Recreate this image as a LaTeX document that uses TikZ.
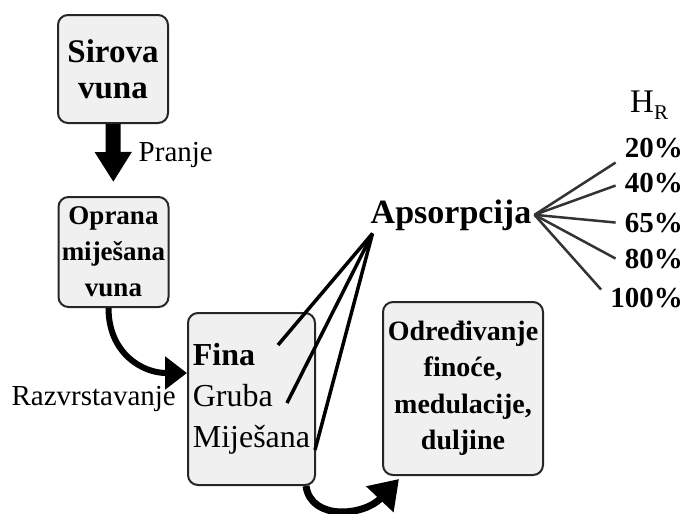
\documentclass[tikz,border=0pt]{standalone}
\usepackage{fontspec}
\setmainfont{Liberation Serif}
\usetikzlibrary{arrows.meta,positioning}
\begin{document}
\begin{tikzpicture}[x=1pt, y=-1pt,
		box/.style = {draw=black!85, line width=2pt, rounded corners=10pt, fill=black!6, align=center, inner sep=0pt},
		lbl/.style = {font=\fontsize{29}{34}\selectfont, inner sep=0pt},
		pct/.style = {font=\fontsize{29}{34}\selectfont\bfseries, anchor=base east, inner sep=0pt},
		leg/.style = {line width=3.5pt},
		fan/.style = {line width=2.5pt, draw=black!80}]
		\useasboundingbox (0,0) rectangle (694,514);
		
		\node[box, minimum width=110pt, minimum height=108pt, font=\fontsize{33}{36}\selectfont\bfseries] (1) at (113,69) {Sirova\\vuna};
		\node[box, minimum width=110pt, minimum height=110pt, font=\fontsize{27}{36}\selectfont\bfseries] (2) at (113.5,252) {Oprana\\miješana\\vuna};
		\node[box, align=left, minimum width=127pt, minimum height=172pt, font=\fontsize{32}{41}\selectfont] (3) at (251.5,399) {\textbf{Fina}\\Gruba\\Miješana};
		\node[box, minimum width=160pt, minimum height=173pt, font=\fontsize{28}{36.5}\selectfont\bfseries] (4) at (463,388.5) {Određivanje\\finoće,\\medulacije,\\duljine};
		
		\node[font=\fontsize{34}{40}\selectfont\bfseries, anchor=base, inner sep=0pt] (ap) at (451,223) {Apsorpcija};
		\node[lbl, font=\fontsize{33}{36}\selectfont, anchor=base west] (hr) at (630,112) {H\raisebox{-7pt}{\fontsize{21}{24}\selectfont R}};
		\node[pct] (p20) at (683,157) {20\%};
		\node[pct] (p40) at (683,192) {40\%};
		\node[pct] (p65) at (683,232) {65\%};
		\node[pct] (p80) at (683,268) {80\%};
		\node[pct] (p100) at (683,307) {100\%};
		
		\node[lbl] (raz) [left=11pt of 3] {Razvrstavanje};
		
		\draw[line width=15pt, -{Triangle[length=30pt,width=35pt]}, shorten >=14pt] (1) -- node[lbl, right=18pt, pos=0.43] (pr) {Pranje} (2);
		\draw[line width=6pt, -{Triangle[length=22pt,width=32pt]}] ([xshift=-5pt]2.south) .. controls +(0,45) and +(-45,0) .. ([yshift=26pt]3.west);
		\draw[line width=7pt, -{Triangle[length=28pt,width=36pt]}] ([xshift=-10pt]3.south east) .. controls +(5,35) and +(-35,37) .. ([xshift=17pt,yshift=-3pt]4.south west);
		
		\coordinate (f1) at (278,345);
		\coordinate (f2) at (287,403);
		\coordinate (f3) at (315,450);
		\foreach \c in {f1,f2,f3}
		\draw[leg] (\c) -- ([shift={(2,3)}]ap.south west);
		
		\foreach \p/\dy in {p20/15, p40/3, p65/0, p80/0, p100/-8}
		\draw[fan] ([xshift=3pt]ap.east) -- ([shift={(-9,\dy)}]\p.west);
	\end{tikzpicture}
\end{document}
